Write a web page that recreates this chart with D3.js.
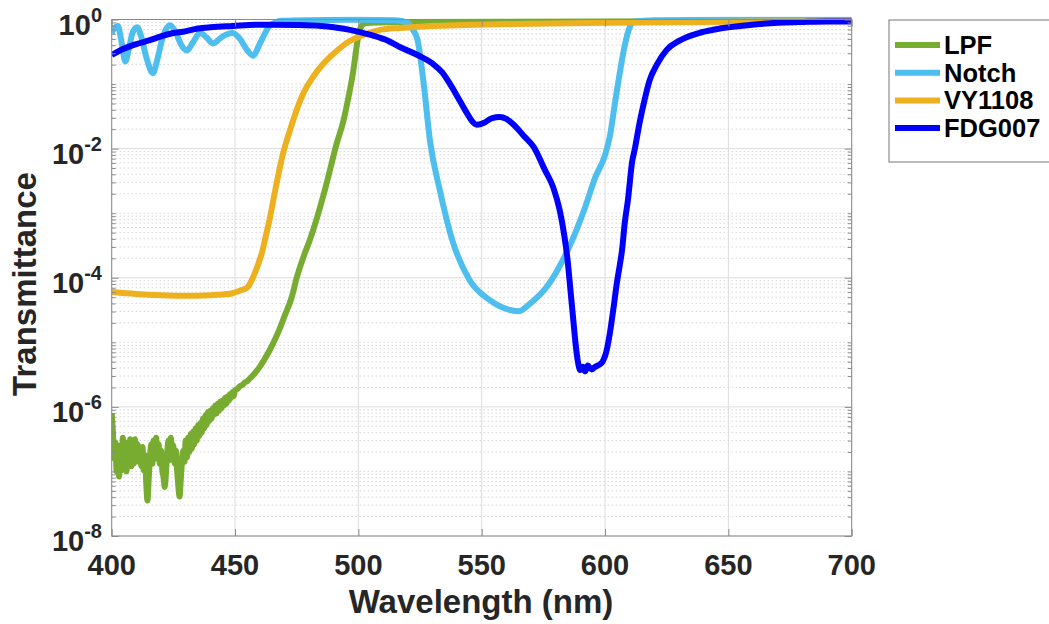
<!DOCTYPE html>
<html>
<head>
<meta charset="utf-8">
<script src="https://cdn.jsdelivr.net/npm/d3@7"></script>
<style>
  body { margin: 0; background: #fff; }
  svg { display: block; font-family: "Liberation Sans", Arial, sans-serif; font-weight: bold; }
</style>
</head>
<body>
<svg width="1049" height="624"></svg>
<script>
// values are log10(transmittance)
let lpfNm = [400, 400.5, 401, 401.5, 402, 402.5, 403, 403.5, 404, 404.5, 405, 405.5, 406, 406.5, 407, 407.5, 408, 408.5, 409, 409.5,
  410, 410.5, 411, 411.5, 412, 412.5, 413, 413.5, 414, 414.5, 415, 415.5, 416, 416.5, 417, 417.5, 418, 418.5, 419, 419.5,
  420, 420.5, 421, 421.5, 422, 422.5, 423, 423.5, 424, 424.5, 425, 425.5, 426, 426.5, 427, 427.5, 428, 428.5, 429, 429.5,
  430, 430.5, 431, 431.5, 432, 432.5, 433, 433.5, 434, 434.5, 435, 435.5, 436, 436.5, 437, 437.5, 438, 438.5, 439, 439.5,
  440, 440.5, 441, 441.5, 442, 442.5, 443, 443.5, 444, 444.5, 445, 445.5, 446, 446.5, 447, 447.5, 448, 448.5, 449, 449.5,
  450, 451, 452, 453, 454, 455, 456, 458, 460, 462, 465, 468, 470, 473, 475, 478, 480,
  483, 486, 488.5, 491, 494, 496, 498, 499, 500, 501, 502, 505, 520, 600, 700];
let lpfLog = [-6.10, -6.40, -6.80, -6.55, -7.00, -6.70, -7.08, -6.60, -6.98, -6.48, -6.88, -6.55, -7.00, -6.62, -6.82, -6.50, -6.92, -6.58, -6.88, -6.50,
  -6.78, -6.58, -6.85, -6.66, -6.92, -6.62, -6.98, -6.75, -7.18, -7.45, -7.12, -6.80, -6.58, -6.88, -6.52, -6.78, -6.48, -6.80, -6.58, -6.88,
  -6.68, -6.98, -7.08, -7.24, -7.02, -6.72, -6.52, -6.82, -6.48, -6.72, -6.60, -6.88, -6.68, -6.98, -7.22, -7.39, -7.12, -6.85, -6.68, -6.85,
  -6.52, -6.78, -6.48, -6.70, -6.42, -6.65, -6.38, -6.58, -6.33, -6.52, -6.28, -6.45, -6.25, -6.40, -6.18, -6.33, -6.13, -6.28, -6.08, -6.22,
  -6.06, -6.18, -6.02, -6.12, -5.98, -6.10, -5.95, -6.06, -5.92, -6.02, -5.90, -5.98, -5.86, -5.95, -5.84, -5.90, -5.80, -5.86, -5.77, -5.83,
  -5.74, -5.72, -5.68, -5.66, -5.62, -5.60, -5.56, -5.48, -5.38, -5.26, -5.05, -4.80, -4.60, -4.30, -4.00, -3.65, -3.45,
  -3.10, -2.70, -2.33, -1.95, -1.56, -1.20, -0.78, -0.50, -0.25, -0.12, -0.07, -0.05, -0.04, -0.03, -0.02];

let notchNm = [400, 401, 402.5, 404, 405.5, 407, 408.5, 410.3, 412, 414, 416.7, 418.5, 420.5, 423.6, 426, 428, 430.5, 433, 435.8, 438.5,
  441, 445, 449, 452, 455, 457.3, 460, 464, 469, 480, 500, 515, 520, 522, 524, 526.5, 529, 533, 538, 545, 553, 561.5, 565, 569,
  577, 583, 588, 592, 596, 600, 602, 604, 606, 608, 610, 612, 620, 650, 700];
let notchLog = [-0.21, -0.14, -0.10, -0.35, -0.65, -0.45, -0.20, -0.12, -0.27, -0.58, -0.83, -0.62, -0.30, -0.09, -0.20, -0.38, -0.48, -0.35, -0.21, -0.28,
  -0.37, -0.26, -0.21, -0.30, -0.48, -0.56, -0.38, -0.10, -0.02, -0.01, -0.005, -0.01, -0.05, -0.15, -0.32, -1.00, -1.87, -2.64, -3.41, -4.03, -4.34, -4.50, -4.52, -4.42,
  -4.11, -3.72, -3.30, -2.90, -2.45, -2.10, -1.80, -1.30, -0.82, -0.40, -0.12, -0.03, -0.01, -0.005, -0.005];

let vyNm = [400, 410, 420, 430, 440, 445, 449, 452, 455, 457, 459, 461, 462.5, 464, 466, 469.5, 472, 475, 478, 481.6, 485, 488.5,
  492, 495, 502, 508.8, 517, 530, 544, 570, 600, 650, 700];
let vyLog = [-4.22, -4.25, -4.27, -4.28, -4.27, -4.26, -4.24, -4.20, -4.15, -4.02, -3.83, -3.60, -3.35, -3.10, -2.70, -2.07, -1.75, -1.40, -1.12, -0.89, -0.72, -0.58,
  -0.46, -0.37, -0.24, -0.16, -0.13, -0.10, -0.085, -0.065, -0.05, -0.035, -0.025];

let fdgNm = [400, 405, 410, 415.5, 420, 425, 429, 435, 440, 449, 460, 476, 485, 490, 496.6, 505, 512, 517, 524, 530, 534, 537, 541, 544,
  546, 548, 551, 554, 557.4, 560, 563, 567, 571, 575.6, 579, 581.6, 583.5, 584.8, 586, 587, 588, 589, 590, 591, 592, 593, 594.5, 596,
  597.5, 599, 600.5, 602, 603.5, 604.8, 606, 606.9, 608, 609.3, 611, 612, 614, 616, 618, 621, 625, 630, 638, 645, 658.7, 670, 679, 690, 700];
let fdgLog = [-0.55, -0.45, -0.38, -0.32, -0.26, -0.21, -0.19, -0.14, -0.12, -0.10, -0.08, -0.085, -0.10, -0.12, -0.16, -0.24, -0.33, -0.43, -0.55, -0.68, -0.82, -0.99, -1.25, -1.45,
  -1.57, -1.63, -1.60, -1.53, -1.51, -1.54, -1.63, -1.80, -1.97, -2.33, -2.60, -2.95, -3.35, -3.72, -4.20, -4.60, -5.00, -5.30, -5.43, -5.38, -5.45, -5.36, -5.42, -5.38,
  -5.35, -5.30, -5.15, -4.85, -4.45, -4.08, -3.80, -3.57, -3.15, -2.79, -2.20, -2.02, -1.60, -1.25, -0.95, -0.70, -0.47, -0.33, -0.21, -0.15, -0.085, -0.05, -0.04, -0.03, -0.03];

let seriesNames = ['LPF', 'Notch', 'VY1108', 'FDG007'];
let seriesColors = ['#77AC30', '#4DBEEE', '#EDB120', '#0000FF'];
let xTicks = [400, 450, 500, 550, 600, 650, 700];
let yTickExp = [-8, -6, -4, -2, 0];

let svg = d3.select('svg');
let pLeft = 111.7, pRight = 851.7, pTop = 19.5, pBottom = 536;

let x = d3.scaleLinear().domain([400, 700]).range([pLeft, pRight]);
let y = d3.scaleLog().domain([1e-8, 1]).range([pBottom, pTop]);

// minor log positions
let minorVals = [];
for (let e = -8; e < 0; e++) {
  for (let m = 2; m <= 9; m++) minorVals.push(m * Math.pow(10, e));
  if (e % 2 !== 0) minorVals.push(Math.pow(10, e));
}
let majorVals = yTickExp.map(e => Math.pow(10, e));

let grid = svg.append('g');
grid.selectAll('.minor').data(minorVals).enter().append('line')
  .attr('x1', pLeft).attr('x2', pRight)
  .attr('y1', d => y(d)).attr('y2', d => y(d))
  .attr('stroke', '#c4c4c4').attr('stroke-width', 1).attr('stroke-dasharray', '1,3');
grid.selectAll('.hmaj').data(majorVals).enter().append('line')
  .attr('x1', pLeft).attr('x2', pRight)
  .attr('y1', d => y(d)).attr('y2', d => y(d))
  .attr('stroke', '#dcdcdc').attr('stroke-width', 1);
grid.selectAll('.vmaj').data(xTicks).enter().append('line')
  .attr('y1', pTop).attr('y2', pBottom)
  .attr('x1', d => x(d)).attr('x2', d => x(d))
  .attr('stroke', '#dcdcdc').attr('stroke-width', 1);

// data lines
let sets = [[lpfNm, lpfLog], [notchNm, notchLog], [vyNm, vyLog], [fdgNm, fdgLog]];
let line = d3.line()
  .x(d => x(d[0]))
  .y(d => y(Math.pow(10, d[1])))
  .curve(d3.curveMonotoneX);

svg.append('clipPath').attr('id', 'plotclip').append('rect')
  .attr('x', pLeft).attr('y', pTop - 3).attr('width', pRight - pLeft).attr('height', pBottom - pTop + 3);

let lines = svg.append('g').attr('clip-path', 'url(#plotclip)');
sets.forEach((s, i) => {
  let pts = s[0].map((nm, j) => [nm, s[1][j]]);
  lines.append('path')
    .datum(pts)
    .attr('d', line)
    .attr('fill', 'none')
    .attr('stroke', seriesColors[i])
    .attr('stroke-width', 6)
    .attr('stroke-linejoin', 'round');
});

// axes box and ticks
let axisColor = '#8a8a8a';
svg.append('rect')
  .attr('x', pLeft).attr('y', pTop).attr('width', pRight - pLeft).attr('height', pBottom - pTop)
  .attr('fill', 'none').attr('stroke', axisColor).attr('stroke-width', 1);

let xAxis = d3.axisBottom(x).tickValues(xTicks).tickSize(-7).tickFormat('');
svg.append('g').attr('transform', `translate(0,${pBottom})`).call(xAxis)
  .call(g => g.select('.domain').remove())
  .call(g => g.selectAll('line').attr('stroke', axisColor));
let xAxisTop = d3.axisTop(x).tickValues(xTicks).tickSize(-7).tickFormat('');
svg.append('g').attr('transform', `translate(0,${pTop})`).call(xAxisTop)
  .call(g => g.select('.domain').remove())
  .call(g => g.selectAll('line').attr('stroke', axisColor));

[[d3.axisLeft, pLeft], [d3.axisRight, pRight]].forEach(([ax, pos]) => {
  svg.append('g').attr('transform', `translate(${pos},0)`)
    .call(ax(y).tickValues(majorVals).tickSize(-7).tickFormat(''))
    .call(g => g.select('.domain').remove())
    .call(g => g.selectAll('line').attr('stroke', axisColor));
  svg.append('g').attr('transform', `translate(${pos},0)`)
    .call(ax(y).tickValues(minorVals).tickSize(-4).tickFormat(''))
    .call(g => g.select('.domain').remove())
    .call(g => g.selectAll('line').attr('stroke', axisColor));
});

// tick labels
svg.append('g').selectAll('text').data(xTicks).enter().append('text')
  .attr('x', d => x(d)).attr('y', 575)
  .attr('text-anchor', 'middle')
  .attr('font-size', 29).attr('fill', '#262626')
  .text(d => d);

let yl = svg.append('g').selectAll('text').data(yTickExp).enter().append('text')
  .attr('x', 102).attr('y', d => y(Math.pow(10, d)) + 15)
  .attr('text-anchor', 'end')
  .attr('fill', '#262626');
yl.append('tspan').attr('font-size', 29).text('10');
yl.append('tspan').attr('font-size', 20).attr('dy', -13).text(d => d);

// axis titles
svg.append('text')
  .attr('x', 481).attr('y', 613)
  .attr('text-anchor', 'middle')
  .attr('font-size', 33).attr('fill', '#262626')
  .text('Wavelength (nm)');
svg.append('text')
  .attr('transform', 'translate(36,284) rotate(-90)')
  .attr('text-anchor', 'middle')
  .attr('font-size', 33).attr('fill', '#262626')
  .text('Transmittance');

// legend
let legend = svg.append('g');
legend.append('rect')
  .attr('x', 889).attr('y', 20).attr('width', 175).attr('height', 142)
  .attr('fill', '#fff').attr('stroke', '#777').attr('stroke-width', 1);
seriesNames.forEach((name, i) => {
  let ly = 45 + i * 27.7;
  legend.append('line')
    .attr('x1', 895).attr('x2', 940).attr('y1', ly).attr('y2', ly)
    .attr('stroke', seriesColors[i]).attr('stroke-width', 6);
  legend.append('text')
    .attr('x', 944).attr('y', ly + 9)
    .attr('font-size', 25.5).attr('fill', '#000')
    .text(name);
});
</script>
</body>
</html>
